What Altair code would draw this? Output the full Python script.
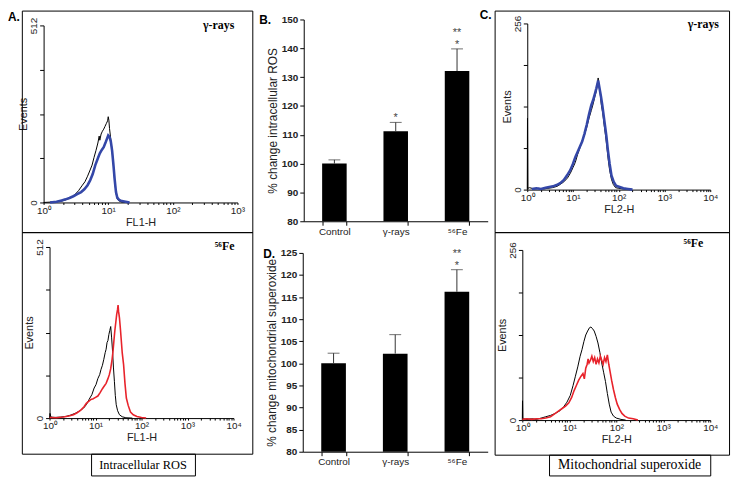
import math
import altair as alt
import pandas as pd

W, H = 733, 474
SANS = "Liberation Sans"
SERIF = "Liberation Serif"
BLUE = "#3447a8"
RED = "#e8232b"

# ---------------- histogram data (x in log10 decades, y = events) ----------------
# A, top: FL1-H, gamma-rays
a1_ctrl_x = [0.00, 0.10, 0.20, 0.28, 0.35, 0.42, 0.48, 0.54, 0.60, 0.64, 0.68, 0.72, 0.75, 0.78, 0.81, 0.84,
             0.86, 0.87, 0.89, 0.91, 0.93, 0.95, 0.97, 0.99, 1.00, 1.01, 1.02, 1.04, 1.06, 1.08, 1.10, 1.12,
             1.14, 1.17, 1.21, 1.28]
a1_ctrl_y = [0, 1, 2, 4, 8, 14, 22, 34, 50, 60, 76, 94, 108, 130, 150, 172,
             192, 180, 198, 206, 212, 220, 228, 236, 248, 238, 214, 182, 150, 108, 62, 28,
             10, 4, 1, 0]
a1_trt_x = [0.10, 0.20, 0.28, 0.34, 0.40, 0.46, 0.52, 0.58, 0.63, 0.68, 0.72, 0.76, 0.80, 0.84, 0.87, 0.90,
            0.93, 0.96, 0.98, 1.00, 1.02, 1.04, 1.06, 1.08, 1.10, 1.12, 1.14, 1.17, 1.21, 1.27, 1.33]
a1_trt_y = [0, 2, 6, 9, 13, 18, 24, 30, 38, 50, 64, 82, 108, 128, 142, 152,
            160, 174, 184, 194, 190, 176, 150, 110, 66, 30, 14, 7, 4, 2, 0]

# A, bottom: FL1-H, 56Fe
a2_ctrl_x = [0.00, 0.01, 0.03, 0.12, 0.24, 0.36, 0.46, 0.57, 0.66, 0.74, 0.80, 0.86, 0.92, 0.97, 1.01, 1.05,
             1.09, 1.12, 1.15, 1.18, 1.21, 1.23, 1.25, 1.27, 1.29, 1.31, 1.33, 1.35, 1.37, 1.39, 1.41, 1.43,
             1.45, 1.48, 1.52, 1.58, 1.66, 1.80]
a2_ctrl_y = [0, 14, 3, 2, 3, 5, 9, 15, 22, 30, 40, 56, 70, 90, 100, 118,
             130, 146, 158, 176, 196, 206, 226, 232, 250, 262, 274, 240, 200, 150, 110, 68,
             40, 22, 10, 4, 1, 0]
a2_trt_x = [0.00, 0.15, 0.30, 0.42, 0.52, 0.60, 0.68, 0.75, 0.80, 0.85, 0.90, 0.95, 1.00, 1.05, 1.10, 1.15,
            1.19, 1.23, 1.27, 1.30, 1.33, 1.36, 1.38, 1.40, 1.42, 1.44, 1.46, 1.48, 1.49, 1.50, 1.52, 1.54,
            1.56, 1.58, 1.61, 1.64, 1.67, 1.71, 1.76, 1.82, 1.90, 2.00, 2.10]
a2_trt_y = [2, 1, 3, 6, 10, 16, 24, 34, 44, 50, 56, 58, 62, 66, 76, 88,
            96, 104, 118, 130, 148, 176, 200, 232, 262, 286, 310, 326, 338, 320, 300, 268,
            232, 196, 160, 104, 60, 38, 18, 10, 5, 2, 0]

# C, top: FL2-H, gamma-rays
c1_ctrl_x = [0.000, 0.005, 0.012, 0.05, 0.15, 0.25, 0.35, 0.45, 0.55, 0.65, 0.72, 0.80, 0.88, 0.94, 1.00, 1.05,
             1.10, 1.15, 1.20, 1.25, 1.30, 1.35, 1.40, 1.44, 1.48, 1.51, 1.53, 1.55, 1.57, 1.59, 1.62, 1.65,
             1.68, 1.71, 1.74, 1.77, 1.80, 1.84, 1.88, 1.93, 2.00, 2.10, 2.25]
c1_ctrl_y = [0, 110, 2, 3, 1, 2, 1, 2, 3, 5, 8, 12, 18, 25, 34, 42,
             54, 64, 76, 84, 96, 110, 122, 132, 144, 152, 162, 172, 158, 150, 130, 118,
             100, 84, 66, 46, 30, 16, 8, 3, 2, 1, 0]
c1_trt_x = [0.10, 0.20, 0.30, 0.40, 0.48, 0.56, 0.64, 0.72, 0.80, 0.87, 0.94, 1.00, 1.05, 1.10, 1.15, 1.20,
            1.25, 1.30, 1.35, 1.40, 1.44, 1.48, 1.51, 1.53, 1.55, 1.57, 1.59, 1.61, 1.64, 1.67, 1.70, 1.73,
            1.76, 1.80, 1.84, 1.89, 1.94, 2.02, 2.10, 2.20, 2.30]
c1_trt_y = [1, 2, 1, 3, 4, 5, 7, 10, 15, 22, 30, 40, 50, 58, 66, 74,
            86, 100, 116, 130, 138, 148, 156, 162, 168, 160, 152, 144, 130, 114, 98, 82,
            62, 40, 22, 12, 6, 4, 2, 1, 0]

# C, bottom: FL2-H, 56Fe
c2_ctrl_x = [0.000, 0.004, 0.010, 0.10, 0.20, 0.30, 0.40, 0.50, 0.60, 0.70, 0.80, 0.88, 0.95, 1.02, 1.08, 1.13,
             1.18, 1.23, 1.27, 1.31, 1.35, 1.39, 1.43, 1.46, 1.49, 1.53, 1.57, 1.61, 1.65, 1.69, 1.73, 1.77,
             1.81, 1.85, 1.89, 1.94, 2.00, 2.10, 2.20]
c2_ctrl_y = [0, 29, 2, 1, 2, 1, 3, 5, 7, 10, 14, 20, 27, 37, 52, 66,
             80, 96, 106, 118, 128, 134, 139, 140, 138, 134, 126, 116, 102, 86, 72, 58,
             40, 24, 12, 6, 3, 1, 0]
c2_trt_x = [0.00, 0.10, 0.20, 0.30, 0.40, 0.50, 0.60, 0.68, 0.76, 0.84, 0.92, 0.99, 1.05, 1.10, 1.15, 1.20,
            1.25, 1.29, 1.32, 1.35, 1.38, 1.40, 1.42, 1.45, 1.48, 1.51, 1.54, 1.57, 1.60, 1.63, 1.66, 1.69,
            1.72, 1.75, 1.78, 1.81, 1.84, 1.87, 1.90, 1.94, 1.98, 2.02, 2.07, 2.12, 2.18, 2.26, 2.36, 2.46]
c2_trt_y = [1, 2, 1, 2, 2, 3, 5, 9, 13, 17, 21, 26, 34, 44, 52, 60,
            66, 70, 62, 78, 84, 92, 86, 90, 96, 88, 94, 84, 92, 86, 96, 90,
            84, 94, 88, 98, 84, 72, 60, 46, 34, 24, 16, 10, 6, 3, 2, 0]

# ---------------- bar data ----------------
groups = ["Control", "γ-rays", "⁵⁶Fe"]
ros_mean = [100.0, 111.2, 132.1]
ros_err = [1.3, 3.1, 7.7]
ros_sig_low = ["", "*", "*"]
ros_sig_high = ["", "", "**"]
mito_mean = [100.0, 102.2, 116.2]
mito_err = [2.3, 4.3, 5.0]
mito_sig_low = ["", "", "*"]
mito_sig_high = ["", "", "**"]

SUP_EXPR = ("indexof([0,1,2,3,4], datum.value) >= 0 ? "
            "'10' + ['⁰','¹','²','³','⁴'][datum.value] : ''")


# layout helpers: page-pixel positions of the reference -> chart pixels
def fx(X):
    return X - 8


def fy(Y):
    return 0.5 + (Y - 5) * 0.9926


def log_ticks(decades):
    vals = []
    for d in range(decades):
        vals.append(d)
        for k in range(2, 10):
            vals.append(round(d + math.log10(k), 4))
    vals.append(decades)
    return vals


def hist_panel(cx, cy, tx, ty, color, sw, decades, ymax, X0, X1, Y0, Y1, xtitle):
    xr = [fx(X0), fx(X1)]
    yr = [round(fy(Y0)), round(fy(Y1))]
    xs = alt.Scale(domain=[0, decades], range=xr, nice=False, zero=False)
    ys = alt.Scale(domain=[0, ymax], range=yr, nice=False, zero=False)
    xaxis = alt.Axis(orient="bottom", offset=-(H - yr[0]), values=log_ticks(decades),
                     labelExpr=SUP_EXPR, title=xtitle, grid=False, tickSize=2,
                     labelFlush=False, labelOverlap=False, labelFont=SANS, labelFontSize=10,
                     labelColor="#222", labelPadding=1, titleFont=SANS, titleFontSize=11,
                     titleFontWeight="normal", titleColor="#222", titlePadding=1,
                     domainColor="black", tickColor="black")
    yaxis = alt.Axis(orient="left", offset=-xr[0],
                     values=[0, ymax // 4, ymax // 2, 3 * ymax // 4, ymax],
                     labelExpr=f"datum.value == 0 || datum.value == {ymax} ? datum.label : ''",
                     labelAngle=270, labelAlign="center", labelBaseline="bottom",
                     title="Events", grid=False, tickSize=4, labelFlush=False,
                     labelOverlap=False, labelFont=SANS, labelFontSize=10, labelColor="#222",
                     labelPadding=1, titleFont=SANS, titleFontSize=11, titleFontWeight="normal",
                     titleColor="#222", titlePadding=0, domainColor="black", tickColor="black")
    ctrl = alt.Chart(pd.DataFrame({"logx": cx, "count": cy})).mark_line(
        color="black", strokeWidth=1).encode(
        x=alt.X("logx:Q", scale=xs, axis=xaxis),
        y=alt.Y("count:Q", scale=ys, axis=yaxis))
    trt = alt.Chart(pd.DataFrame({"logx": tx, "count": ty})).mark_line(
        color=color, strokeWidth=sw).encode(
        x=alt.X("logx:Q", scale=xs, axis=None),
        y=alt.Y("count:Q", scale=ys, axis=None))
    return [ctrl, trt]


def bar_panel(means, errs, sig_low, sig_high, ymin, ymax, step, X0, X1, Y0, Y1, ytitle):
    xr = [fx(X0), fx(X1)]
    yr = [round(fy(Y0)), round(fy(Y1))]
    df = pd.DataFrame({"group": groups, "mean": means,
                       "upper": [m + e for m, e in zip(means, errs)],
                       "lo": sig_low, "hi": sig_high})
    xs = alt.Scale(domain=groups, range=xr, paddingInner=0.6, paddingOuter=0.3)
    ys = alt.Scale(domain=[ymin, ymax], range=yr, nice=False, zero=False)
    xaxis = alt.Axis(orient="bottom", offset=-(H - yr[0]), title=None, labelAngle=0,
                     tickBand="extent", tickSize=4, grid=False, labelFont=SANS,
                     labelFontSize=10, labelColor="#222", labelPadding=1,
                     domainColor="black", tickColor="black")
    yaxis = alt.Axis(orient="left", offset=-xr[0], values=list(range(ymin, ymax + 1, step)),
                     title=ytitle, grid=False, tickSize=4, labelFont=SANS, labelFontSize=10,
                     labelFontWeight="bold", labelColor="#222", labelPadding=2,
                     labelFlush=False, titleFont=SANS, titleFontSize=12,
                     titleFontWeight="normal", titleColor="#222", titlePadding=2,
                     domainColor="black", tickColor="black")
    base = alt.Chart(df)
    x_main = alt.X("group:N", scale=xs, axis=xaxis)
    x_plain = alt.X("group:N", scale=xs, axis=None)
    bars = base.mark_bar(color="black").encode(
        x=x_main, y=alt.Y("mean:Q", scale=ys, axis=yaxis), y2=alt.datum(ymin))
    err = base.mark_rule(color="#333", strokeWidth=1).encode(
        x=x_plain, y=alt.Y("mean:Q", scale=ys, axis=None), y2="upper:Q")
    cap = base.mark_tick(color="#333", size=12, thickness=1).encode(
        x=x_plain, y=alt.Y("upper:Q", scale=ys, axis=None))
    s1 = base.mark_text(font=SANS, fontSize=11, color="#444", baseline="alphabetic", dy=-1).encode(
        x=x_plain, y=alt.Y("upper:Q", scale=ys, axis=None), text="lo:N")
    s2 = base.mark_text(font=SANS, fontSize=11, color="#444", baseline="alphabetic", dy=-13).encode(
        x=x_plain, y=alt.Y("upper:Q", scale=ys, axis=None), text="hi:N")
    return [bars, err, cap, s1, s2]


ONE = alt.Data(values=[{}])


def frame(X0, X1, Y0, Y1):
    return alt.Chart(ONE).mark_rect(filled=False, stroke="black", strokeWidth=1).encode(
        x=alt.value(fx(X0) + 0.5), x2=alt.value(fx(X1) + 0.5),
        y=alt.value(round(fy(Y0)) + 0.5), y2=alt.value(round(fy(Y1)) + 0.5))


def label(text, X, Y, font, size, weight="normal", align="center", baseline="middle"):
    return alt.Chart(ONE).mark_text(font=font, fontSize=size, fontWeight=weight, align=align,
                                    baseline=baseline, color="black").encode(
        x=alt.value(max(fx(X), 0)), y=alt.value(fy(Y)), text=alt.value(text))


layers = [
    frame(22, 255, 5, 230), frame(22, 255, 230, 456),
    frame(500, 737, 5, 230), frame(500, 737, 230, 457),
    frame(92, 197, 456, 478), frame(555, 718, 457, 478),
]
layers += hist_panel(a1_ctrl_x, a1_ctrl_y, a1_trt_x, a1_trt_y, BLUE, 2.6, 3, 512,
                     44, 240, 200, 20, "FL1-H")
layers += hist_panel(a2_ctrl_x, a2_ctrl_y, a2_trt_x, a2_trt_y, RED, 1.6, 4, 512,
                     50, 236, 420, 245, "FL1-H")
layers += hist_panel(c1_ctrl_x, c1_ctrl_y, c1_trt_x, c1_trt_y, BLUE, 2.6, 4, 256,
                     533, 718, 187, 18, "FL2-H")
layers += hist_panel(c2_ctrl_x, c2_ctrl_y, c2_trt_x, c2_trt_y, RED, 1.6, 4, 256,
                     528, 718, 422, 248, "FL2-H")
layers += bar_panel(ros_mean, ros_err, ros_sig_low, ros_sig_high, 80, 150, 10,
                    307, 493, 219, 14, "% change intracellular ROS")
layers += bar_panel(mito_mean, mito_err, mito_sig_low, mito_sig_high, 80, 125, 5,
                    306, 493, 454, 251, "% change mitochondrial superoxide")
layers += [
    label("A.", 3, 11, SANS, 12, "bold", align="left"),
    label("B.", 262, 14, SANS, 12, "bold", align="left"),
    label("C.", 485, 9, SANS, 12, "bold", align="left"),
    label("D.", 266, 252, SANS, 12, "bold", align="left"),
    label("γ-rays", 221, 19, SERIF, 12, "bold"),
    label("⁵⁶Fe", 227, 244, SERIF, 12, "bold"),
    label("γ-rays", 711, 18, SERIF, 12, "bold"),
    label("⁵⁶Fe", 701, 241, SERIF, 12, "bold"),
    label("Intracellular ROS", 144.5, 467, SERIF, 12.5),
    label("Mitochondrial superoxide", 636.5, 467.5, SERIF, 14),
]

chart = alt.layer(*layers).resolve_scale(
    x="independent", y="independent"
).resolve_axis(
    x="independent", y="independent"
).properties(
    width=W, height=H, padding=0, autosize=alt.AutoSizeParams(type="none")
).configure_view(stroke="transparent")

chart.save("out.html", embed_options={"renderer": "svg", "actions": False})
